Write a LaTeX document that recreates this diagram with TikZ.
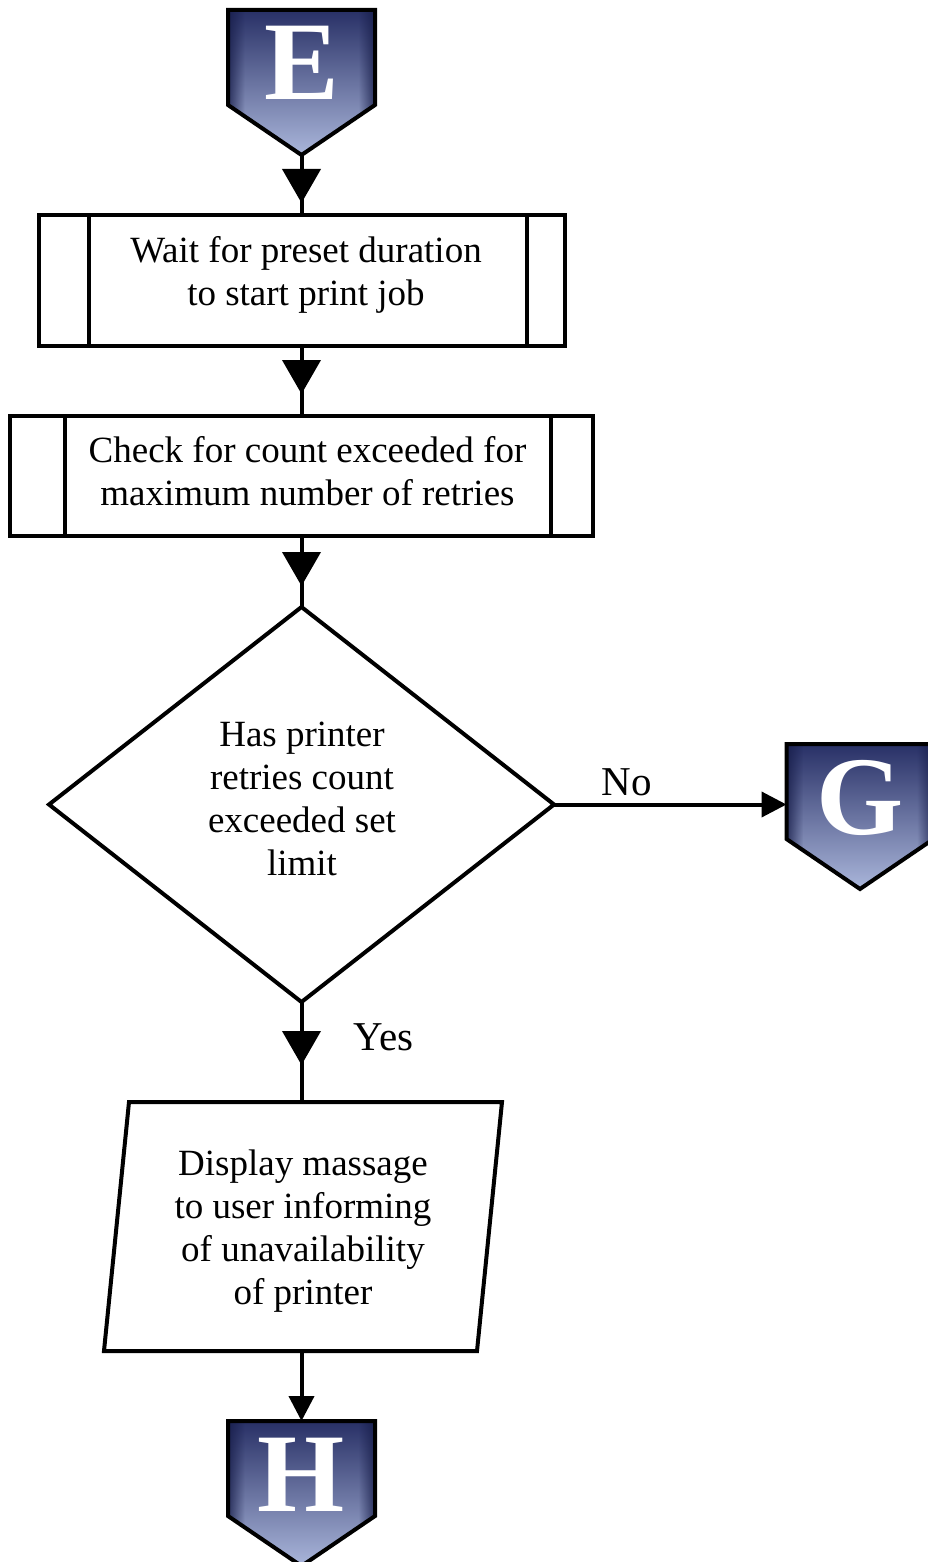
\documentclass[tikz,border=0pt]{standalone}
\usepackage{fontspec}
\setmainfont{Liberation Serif}
\usetikzlibrary{shapes.geometric, arrows.meta, decorations.markings, fadings}

\definecolor{navytop}{RGB}{40,48,102}
\definecolor{navymid}{RGB}{104,116,164}
\definecolor{navybot}{RGB}{172,184,220}
\definecolor{navyedge}{RGB}{22,28,72}

% darkening bands along the side edges of the off-page connectors
\tikzfading[name=edgeL, left color=transparent!0, right color=transparent!100]
\tikzfading[name=edgeR, left color=transparent!100, right color=transparent!0]

\tikzset{
  flow/.style={line width=4pt},
  midarrow/.style={postaction={decorate},
    decoration={markings, mark=at position #1 with {\arrow{Triangle[width=38pt,length=34pt]}}}},
  endarrow/.style={-{Triangle[width=25pt,length=25pt]}},
  procbox/.style={draw, line width=4pt, rectangle, inner sep=0pt, outer sep=0pt},
  decbox/.style={draw, line width=4pt, diamond, inner sep=0pt, outer sep=0pt},
  iobox/.style={rectangle, inner sep=0pt, outer sep=0pt},
  boxtext/.style={inner sep=0pt, align=center, font=\fontsize{37}{43}\selectfont},
  lbl/.style={inner sep=0pt, font=\fontsize{41}{41}\selectfont},
  pageletter/.style={inner sep=0pt, text=white, font=\bfseries\fontsize{112}{112}\selectfont}
}

% off-page connector: #1 name, #2 centre x, #3 top y, #4 letter
\newcommand{\offpage}[4]{%
  \begin{scope}
    \clip ({#2-73.5},#3) -- ({#2+73.5},#3) -- ({#2+73.5},{#3+95}) -- (#2,{#3+145})
      -- ({#2-73.5},{#3+95}) -- cycle;
    \shade[top color=navytop, middle color=navymid, bottom color=navybot]
      ({#2-75},#3) rectangle ({#2+75},{#3+147});
    \fill[navyedge, path fading=edgeL, fit fading=true, opacity=.85]
      ({#2-75},#3) rectangle ({#2-57},{#3+147});
    \fill[navyedge, path fading=edgeR, fit fading=true, opacity=.85]
      ({#2+57},#3) rectangle ({#2+75},{#3+147});
  \end{scope}
  \draw[line width=4pt, line join=miter] ({#2-73.5},#3) -- ({#2+73.5},#3) -- ({#2+73.5},{#3+95})
    -- (#2,{#3+145}) -- ({#2-73.5},{#3+95}) -- cycle;
  \node[pageletter, anchor=base] (#1) at (#2,{#3+90}) {#4};
  \coordinate (#1-top) at (#2,#3);
  \coordinate (#1-left) at ({#2-73.5},{#3+60.5});
  \coordinate (#1-tip) at (#2,{#3+145});
}

\begin{document}
\begin{tikzpicture}[x=1pt, y=-1pt]
\useasboundingbox (0,0) rectangle (927,1562);

% off-page connectors
\offpage{E}{301.5}{10}{E}
\offpage{G}{860}{744}{G}
\offpage{H}{301.5}{1421}{H}

% predefined processes
\node[procbox, minimum width=526pt, minimum height=131pt] (wait) at (301.5,280.5) {};
\draw[line width=4pt] ([xshift=50pt]wait.north west) -- ([xshift=50pt]wait.south west);
\draw[line width=4pt] ([xshift=-38pt]wait.north east) -- ([xshift=-38pt]wait.south east);
\node[boxtext] (wait-text) at (306,274.5) {Wait for preset duration\\to start print job};

\node[procbox, minimum width=583pt, minimum height=120pt] (check) at (301.5,476) {};
\draw[line width=4pt] ([xshift=55pt]check.north west) -- ([xshift=55pt]check.south west);
\draw[line width=4pt] ([xshift=-42pt]check.north east) -- ([xshift=-42pt]check.south east);
\node[boxtext] (check-text) at (307.5,471) {Check for count exceeded for\\maximum number of retries};

% decision
\node[decbox, minimum width=505pt, minimum height=395pt] (dec) at (301.5,804.5) {};
\node[boxtext] (dec-text) at (302,799) {Has printer\\retries count\\exceeded set\\limit};

% input/output
\node[iobox, minimum width=398pt, minimum height=249pt] (disp) at (303,1226.5) {};
\draw[line width=4pt, line join=miter] ([xshift=25pt]disp.north west) -- (disp.north east)
  -- ([xshift=-25pt]disp.south east) -- (disp.south west) -- cycle;
\node[boxtext] (disp-text) at (303,1231.5)
  {Display massage\\to user informing\\of unavailability\\of printer};

% connectors
\draw[flow, midarrow=48pt] (E-tip) -- (wait.north);
\draw[flow, midarrow=48pt] (wait.south) -- (check.north);
\draw[flow, midarrow=50pt] (check.south) -- (dec.north);
\draw[flow, midarrow=63pt] (dec.south) -- (dec.south |- disp.north);
\draw[flow, endarrow] (dec.east) -- (G-left);
\draw[flow, endarrow] (H-top |- disp.south) -- (H-top);

% branch labels
\node[lbl, anchor=base] (no) at (627,795) {No};
\node[lbl, anchor=base] (yes) at (383.5,1050) {Yes};
\end{tikzpicture}
\end{document}
